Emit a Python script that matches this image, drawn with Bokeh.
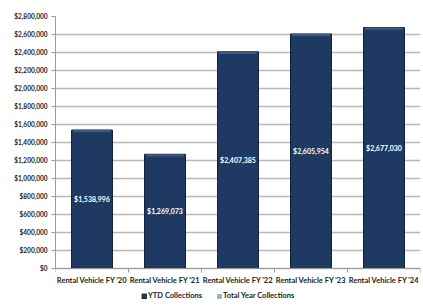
from bokeh.plotting import figure
from bokeh.models import (ColumnDataSource, FixedTicker, NumeralTickFormatter,
                          Legend, LegendItem, Range1d, LabelSet)
from bokeh.core.properties import value
from bokeh.embed import file_html
from bokeh.resources import INLINE

categories = ["Rental Vehicle FY '20", "Rental Vehicle FY '21", "Rental Vehicle FY '22",
              "Rental Vehicle FY '23", "Rental Vehicle FY '24"]
ytd_collections = [1538996, 1269073, 2407385, 2605954, 2677030]
total_year_collections = [0, 0, 0, 0, 0]
y_ticks = list(range(0, 2800001, 200000))
series_names = ["YTD Collections", "Total Year Collections"]

FONT = "Lato"
NAVY = "#1f3a62"
LIGHT = "#8db3cf"
AXIS_GRAY = "#9a9a9a"
TICK_LEN = 45000  # visual length of category tick marks (data units)

xs = [i + 1 for i in range(len(categories))]
src = ColumnDataSource(dict(
    x=xs, top=ytd_collections,
    mid=[v / 2 for v in ytd_collections],
    label=["${:,}".format(v) for v in ytd_collections],
    cap_bottom=[v - 25000 for v in ytd_collections],
    base=[0] * len(xs),
    cat=categories,
))
bounds = [x - 0.5 for x in xs] + [xs[-1] + 0.5]

# y range extends below zero so that the category labels and legend fit in the frame
p = figure(width=423, height=306, output_backend="svg", toolbar_location=None,
           x_range=Range1d(0.5, 5.5), y_range=Range1d(-400000, 2800000),
           min_border_left=55, min_border_right=3, min_border_top=16, min_border_bottom=2)
p.outline_line_color = None
p.background_fill_color = "white"

p.xgrid.grid_line_color = None
p.ygrid.ticker = FixedTicker(ticks=y_ticks)
p.ygrid.grid_line_color = "#b8b8b8"
p.ygrid.grid_line_width = 1.5

bars = p.vbar(x="x", top="top", bottom=0, width=0.56, source=src,
              fill_color=NAVY, line_color="#0e1d33", line_width=1)
p.vbar(x="x", top="top", bottom="cap_bottom", width=0.52, source=src,
       fill_color="#3b5a85", line_color=None)

ghost = p.vbar(x=[1], top=[0], width=0.0, fill_color=LIGHT, line_color=None)

# category axis (baseline, boundary ticks, labels)
p.segment(x0=bounds[0], y0=0, x1=bounds[-1], y1=0, line_color=AXIS_GRAY, line_width=1)
p.segment(x0=bounds, y0=[0] * len(bounds), x1=bounds, y1=[-TICK_LEN] * len(bounds),
          line_color=AXIS_GRAY, line_width=1)
cat_labels = LabelSet(x="x", y="base", text="cat", source=src, text_color="#222222",
                      text_font=value(FONT), text_font_style="bold", text_font_size="7.5px",
                      text_align="center", text_baseline="top", y_offset=-7)
p.add_layout(cat_labels)

labels = LabelSet(x="x", y="mid", text="label", source=src, text_color="white",
                  text_font=value(FONT), text_font_style="bold", text_font_size="7px",
                  text_align="center", text_baseline="middle")
p.add_layout(labels)

p.xaxis.visible = False

p.yaxis.ticker = FixedTicker(ticks=y_ticks)
p.yaxis.bounds = (y_ticks[0], y_ticks[-1])
p.yaxis.formatter = NumeralTickFormatter(format="$0,0")
p.yaxis.major_label_text_font = FONT
p.yaxis.major_label_text_font_style = "bold"
p.yaxis.major_label_text_font_size = "6.5px"
p.yaxis.major_label_text_color = "#222222"
p.yaxis.axis_line_color = AXIS_GRAY
p.yaxis.major_tick_line_color = AXIS_GRAY
p.yaxis.major_tick_out = 4
p.yaxis.major_tick_in = 0
p.yaxis.minor_tick_line_color = None
p.yaxis.major_label_standoff = 4

legend = Legend(items=[LegendItem(label=series_names[0], renderers=[bars]),
                       LegendItem(label=series_names[1], renderers=[ghost])],
                orientation="horizontal", location=(86, 4),
                label_text_font=FONT, label_text_font_style="bold",
                label_text_font_size="7.5px", label_text_color="#222222",
                glyph_width=6, glyph_height=6, label_standoff=1, spacing=14,
                padding=0, margin=0, border_line_color=None,
                background_fill_alpha=0, label_height=8)
p.add_layout(legend, "center")

open("out.html", "w").write(file_html(p, INLINE))
